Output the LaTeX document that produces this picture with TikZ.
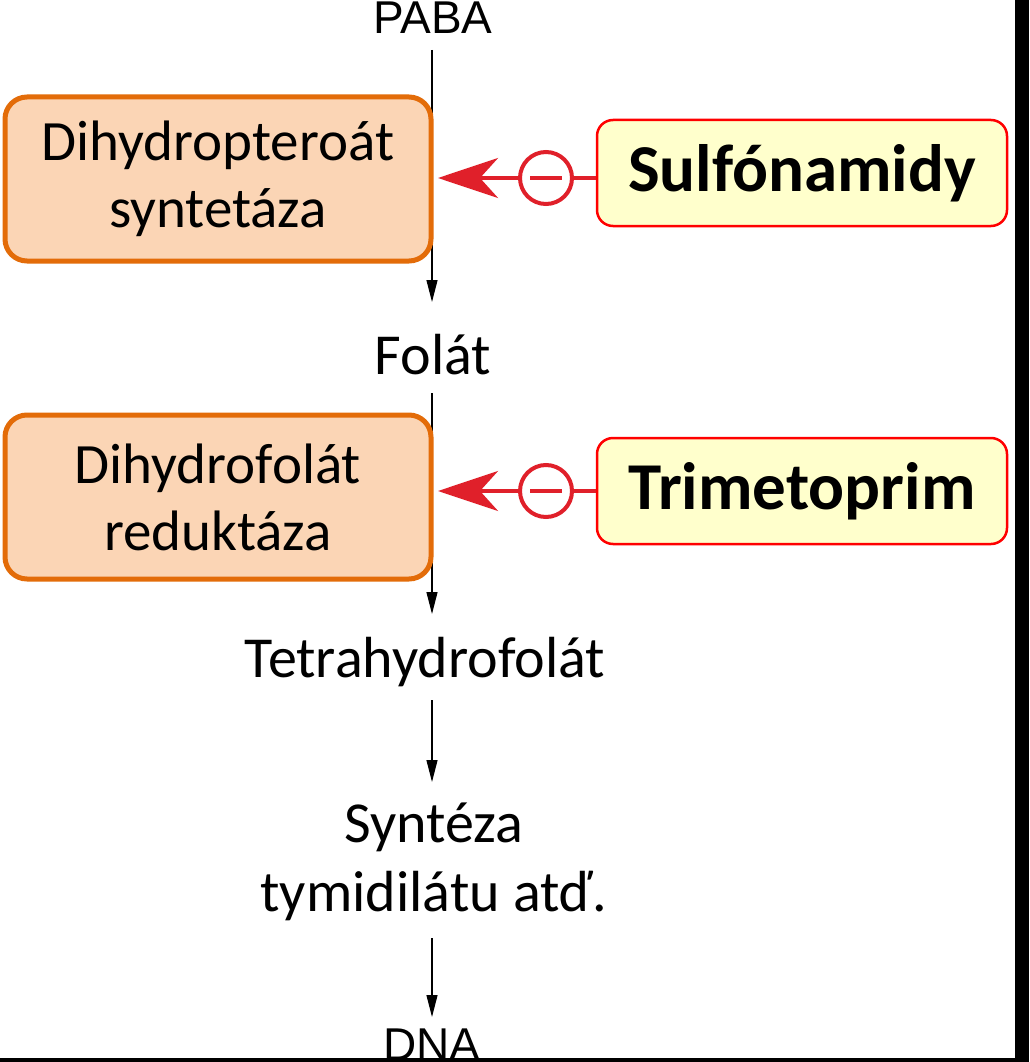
\documentclass[tikz,border=0pt]{standalone}
\usepackage{fontspec}
\setmainfont{Carlito}
\newfontfamily\arial{Liberation Sans}
\usetikzlibrary{arrows.meta}
\definecolor{enzfill}{HTML}{FBD5B5}
\definecolor{enzdraw}{HTML}{E36C09}
\definecolor{drugfill}{HTML}{FFFFCC}
\definecolor{inhred}{HTML}{E0202A}
\tikzset{
 enz/.style={draw=enzdraw,fill=enzfill,line width=5pt,rounded corners=22pt,minimum width=426pt,minimum height=164pt,align=center,font=\fontsize{57}{67}\selectfont},
 drug/.style={draw=red,fill=drugfill,line width=2.5pt,rounded corners=16pt,minimum width=410pt,minimum height=106pt,font=\fontsize{67}{70}\selectfont\bfseries},
 lbl/.style={font=\fontsize{58}{69}\selectfont,align=center},
 albl/.style={font=\arial\fontsize{46}{50}\selectfont},
 flow/.style={line width=1.2pt,-{Triangle[length=22pt,width=11pt]}},
 inh/.style={draw=inhred,line width=4pt},
}
\begin{document}
\begin{tikzpicture}[x=1pt,y=-1pt]
\fill[black] (0,0) rectangle (1029,1062);
\fill[white] (0,0) rectangle (1015,1058);
\useasboundingbox (0,0) rectangle (1029,1062);
\begin{scope}
\clip (0,0) rectangle (1015,1058);
\node[albl] (paba) at (433,18) {PABA};
\node[albl] (dna) at (432,1045) {DNA};
\end{scope}
\node[lbl] (fol) at (433,355) {Folát};
\node[lbl] (thf) at (425,662) {Tetrahydrofolát};
\node[lbl] (syn) at (434,862) {Syntéza\\tymidilátu atď.};
\coordinate (t1) at (432,50);
\coordinate (t2) at (432,393);
\draw[flow] (t1) -- (432,302);
\draw[flow] (t2) -- (432,614);
\draw[flow] (432,700) -- (432,782);
\draw[flow] (432,938) -- (432,1017);
\node[enz] (e1) at (218,179) {Dihydropteroát\\syntetáza};
\node[enz] (e2) at (218,497) {Dihydrofolát\\reduktáza};
\node[drug] (d1) at (802,173) {Sulfónamidy};
\node[drug] (d2) at (802,491) {Trimetoprim};
\foreach \d/\y/\n in {d1/178/c1,d2/491/c2}{
 \node[inh,circle,minimum size=52pt,inner sep=0pt] (\n) at (546,\y) {};
 \draw[inh] (\n.center) ++(-16,0) -- ++(32,0);
 \draw[inh] (\n.east) -- (\d.west |- \n.east);
 \draw[inh,-{Stealth[length=60pt,width=40pt,inset=18pt]}] (\n.west) -- (438,\y);
}
\end{tikzpicture}
\end{document}
